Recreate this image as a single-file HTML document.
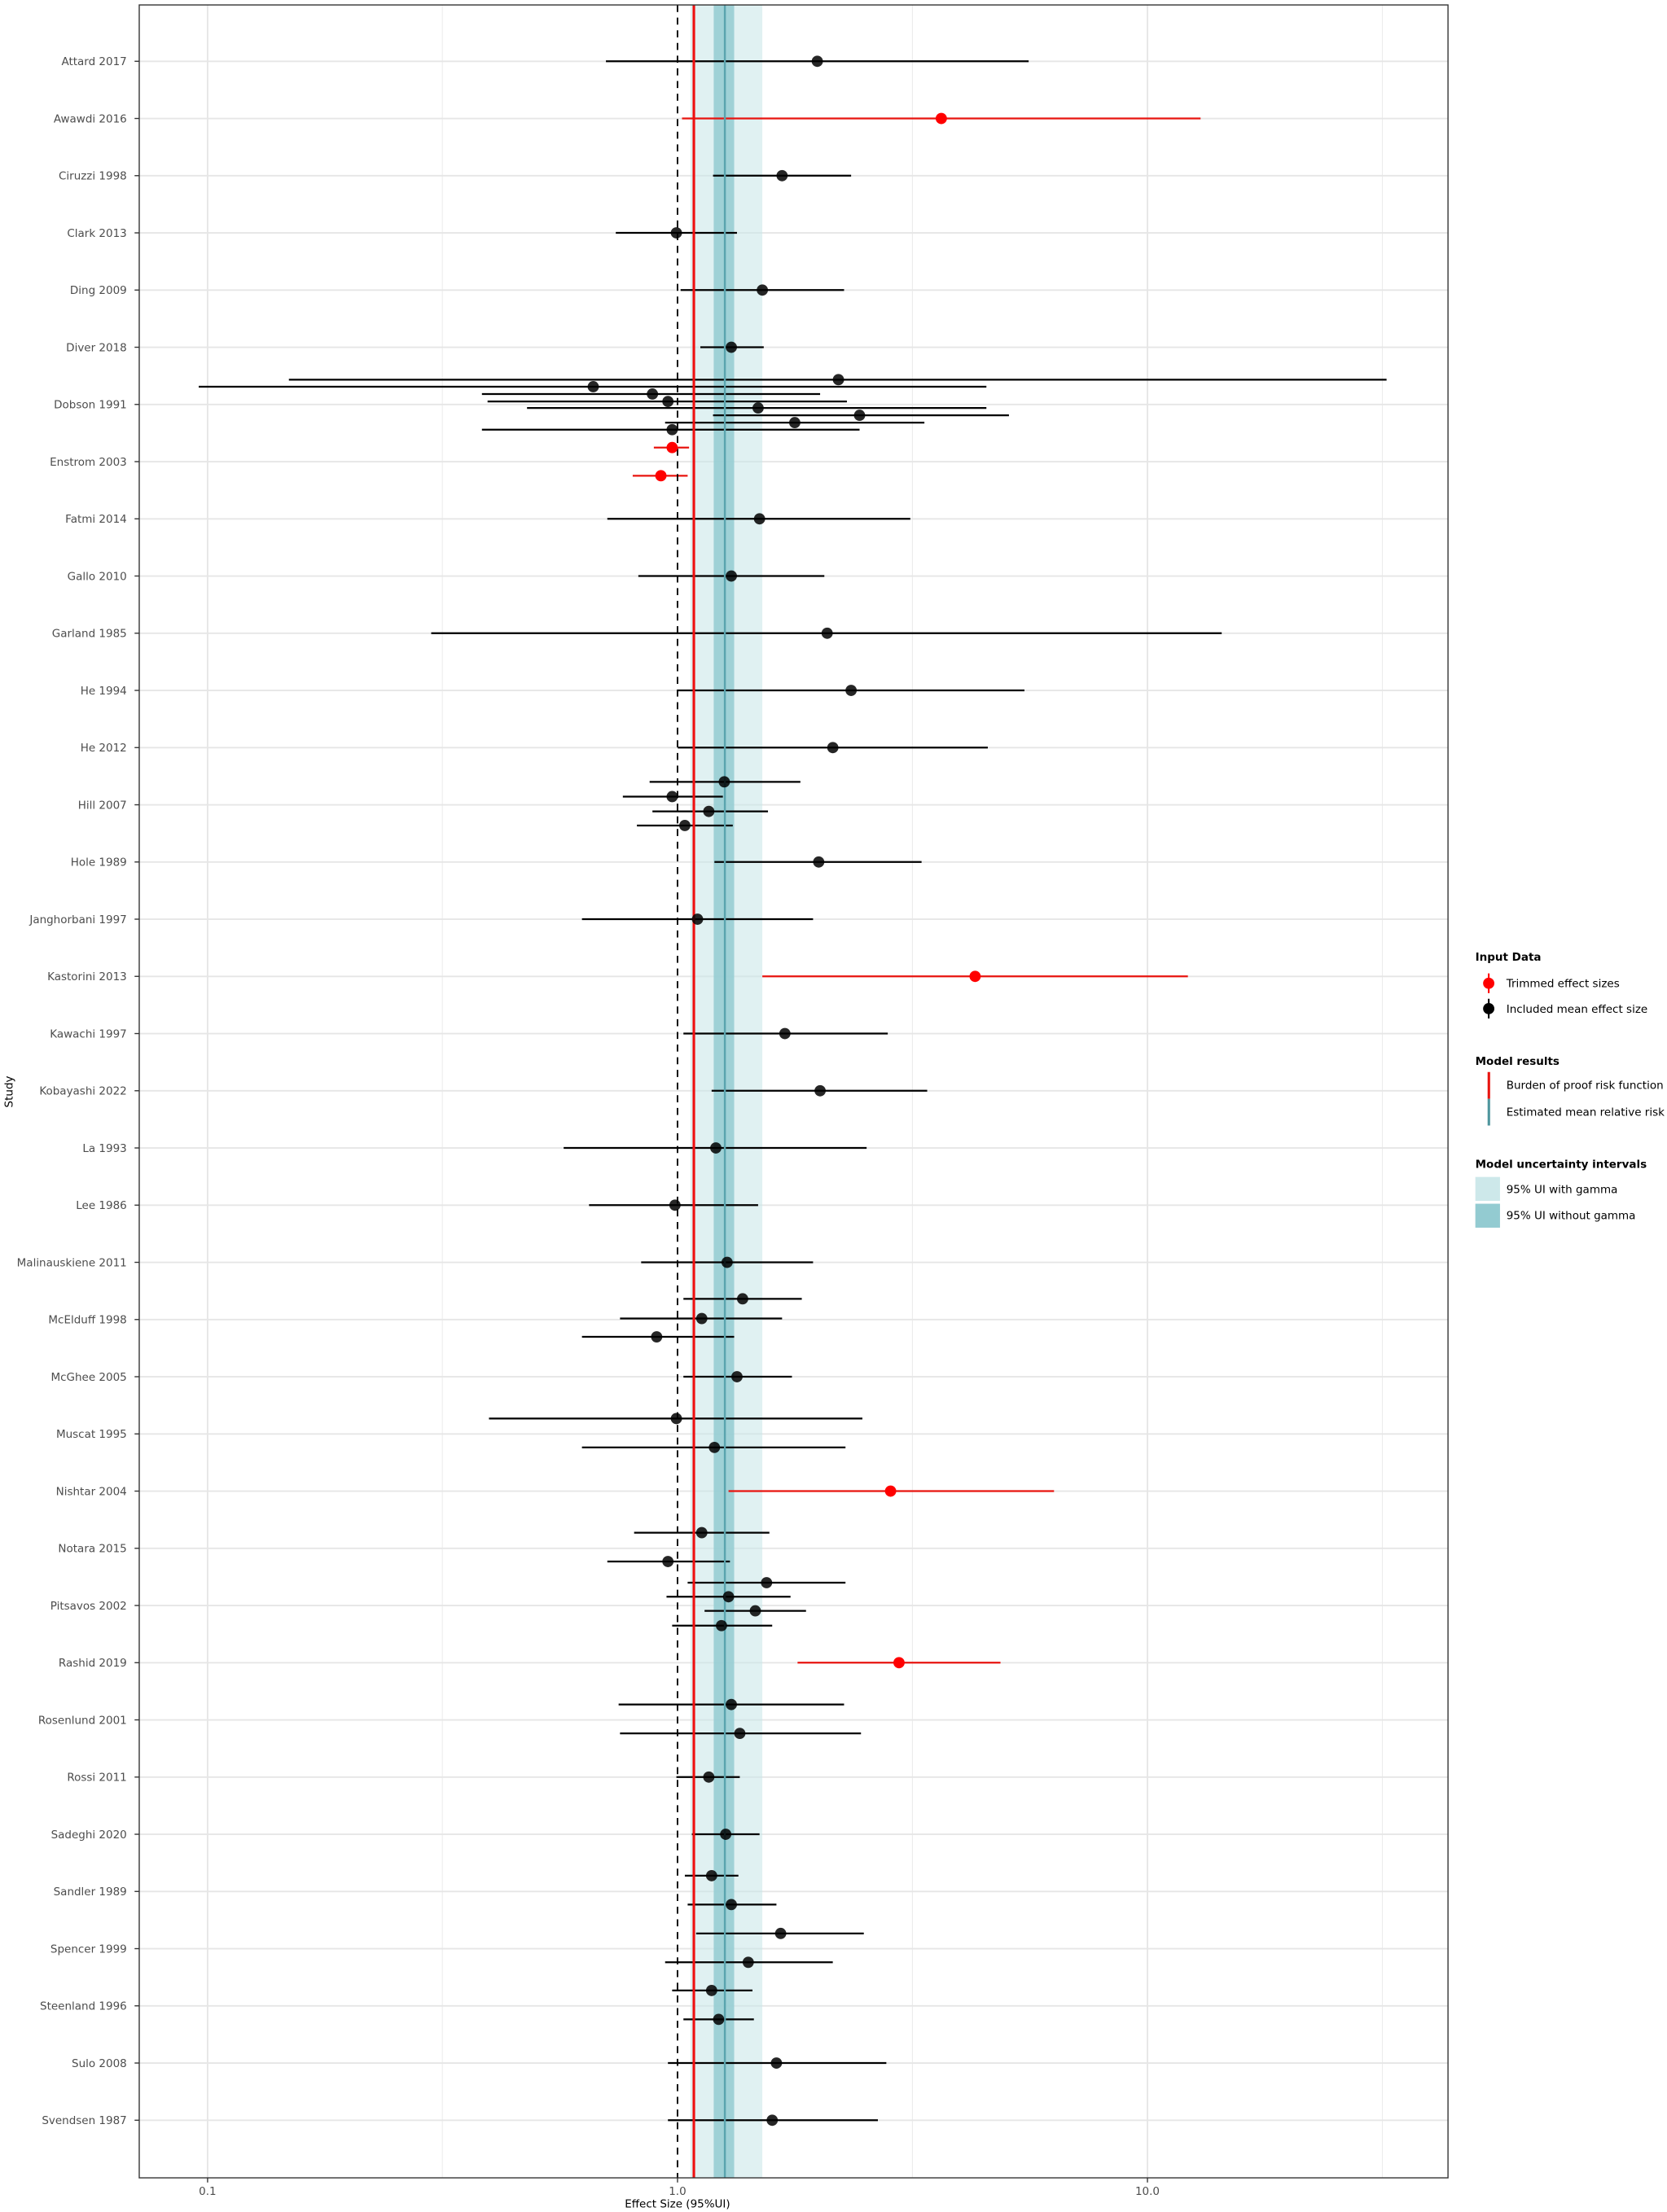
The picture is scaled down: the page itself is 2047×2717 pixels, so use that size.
<!DOCTYPE html>
<html><head><meta charset="utf-8"><style>html,body{margin:0;padding:0;background:#fff}svg{display:block}</style></head>
<body>
<svg width="2047" height="2717" viewBox="0 0 1183 1570.25" xmlns="http://www.w3.org/2000/svg" font-family="DejaVu Sans, Liberation Sans, sans-serif">
<rect x="0" y="0" width="1183" height="1570.25" fill="#fff"/>
<!-- gridlines -->
<g stroke="#ebebeb" stroke-width="0.6">
<line x1="313.9" y1="3.5" x2="313.9" y2="1546"/><line x1="647.5" y1="3.5" x2="647.5" y2="1546"/><line x1="981" y1="3.5" x2="981" y2="1546"/>
</g>
<g stroke="#e6e6e6" stroke-width="1.1">
<line x1="147.3" y1="3.5" x2="147.3" y2="1546"/><line x1="814.3" y1="3.5" x2="814.3" y2="1546"/>
<line x1="98.8" y1="43.5" x2="1027.6" y2="43.5"/><line x1="98.8" y1="84.1" x2="1027.6" y2="84.1"/><line x1="98.8" y1="124.7" x2="1027.6" y2="124.7"/><line x1="98.8" y1="165.3" x2="1027.6" y2="165.3"/><line x1="98.8" y1="205.9" x2="1027.6" y2="205.9"/><line x1="98.8" y1="246.5" x2="1027.6" y2="246.5"/><line x1="98.8" y1="287.1" x2="1027.6" y2="287.1"/><line x1="98.8" y1="327.7" x2="1027.6" y2="327.7"/><line x1="98.8" y1="368.3" x2="1027.6" y2="368.3"/><line x1="98.8" y1="408.9" x2="1027.6" y2="408.9"/><line x1="98.8" y1="449.5" x2="1027.6" y2="449.5"/><line x1="98.8" y1="490.1" x2="1027.6" y2="490.1"/><line x1="98.8" y1="530.7" x2="1027.6" y2="530.7"/><line x1="98.8" y1="571.3" x2="1027.6" y2="571.3"/><line x1="98.8" y1="611.9" x2="1027.6" y2="611.9"/><line x1="98.8" y1="652.5" x2="1027.6" y2="652.5"/><line x1="98.8" y1="693.1" x2="1027.6" y2="693.1"/><line x1="98.8" y1="733.7" x2="1027.6" y2="733.7"/><line x1="98.8" y1="774.3" x2="1027.6" y2="774.3"/><line x1="98.8" y1="814.9" x2="1027.6" y2="814.9"/><line x1="98.8" y1="855.5" x2="1027.6" y2="855.5"/><line x1="98.8" y1="896.1" x2="1027.6" y2="896.1"/><line x1="98.8" y1="936.7" x2="1027.6" y2="936.7"/><line x1="98.8" y1="977.3" x2="1027.6" y2="977.3"/><line x1="98.8" y1="1017.9" x2="1027.6" y2="1017.9"/><line x1="98.8" y1="1058.5" x2="1027.6" y2="1058.5"/><line x1="98.8" y1="1099.1" x2="1027.6" y2="1099.1"/><line x1="98.8" y1="1139.7" x2="1027.6" y2="1139.7"/><line x1="98.8" y1="1180.3" x2="1027.6" y2="1180.3"/><line x1="98.8" y1="1220.9" x2="1027.6" y2="1220.9"/><line x1="98.8" y1="1261.5" x2="1027.6" y2="1261.5"/><line x1="98.8" y1="1302.1" x2="1027.6" y2="1302.1"/><line x1="98.8" y1="1342.7" x2="1027.6" y2="1342.7"/><line x1="98.8" y1="1383.3" x2="1027.6" y2="1383.3"/><line x1="98.8" y1="1423.9" x2="1027.6" y2="1423.9"/><line x1="98.8" y1="1464.5" x2="1027.6" y2="1464.5"/><line x1="98.8" y1="1505.1" x2="1027.6" y2="1505.1"/>
</g>
<!-- bands -->
<rect x="490" y="3.5" width="51" height="1542.5" fill="#c6e6e8" opacity="0.55"/>
<rect x="506.5" y="3.5" width="14.5" height="1542.5" fill="#93cbd1" opacity="0.85"/>
<!-- error bars black -->
<g stroke="#000" stroke-width="1.3">
<line x1="430" y1="43.5" x2="730" y2="43.5"/>
<line x1="506" y1="124.7" x2="604" y2="124.7"/>
<line x1="437" y1="165.3" x2="523" y2="165.3"/>
<line x1="483" y1="205.9" x2="599" y2="205.9"/>
<line x1="497" y1="246.5" x2="542" y2="246.5"/>
<line x1="205" y1="269.5" x2="984" y2="269.5"/>
<line x1="141" y1="274.5" x2="700" y2="274.5"/>
<line x1="342" y1="279.7" x2="582" y2="279.7"/>
<line x1="346" y1="285" x2="601" y2="285"/>
<line x1="374" y1="289.6" x2="700" y2="289.6"/>
<line x1="506" y1="294.8" x2="716" y2="294.8"/>
<line x1="472" y1="300" x2="656" y2="300"/>
<line x1="342" y1="305" x2="610" y2="305"/>
<line x1="431" y1="368.3" x2="646" y2="368.3"/>
<line x1="453" y1="408.9" x2="585" y2="408.9"/>
<line x1="306" y1="449.5" x2="867" y2="449.5"/>
<line x1="481" y1="490.1" x2="727" y2="490.1"/>
<line x1="481" y1="530.7" x2="701" y2="530.7"/>
<line x1="461" y1="555" x2="568" y2="555"/>
<line x1="442" y1="565.5" x2="513" y2="565.5"/>
<line x1="463" y1="576" x2="545" y2="576"/>
<line x1="452" y1="586" x2="520" y2="586"/>
<line x1="507" y1="611.9" x2="654" y2="611.9"/>
<line x1="413" y1="652.5" x2="577" y2="652.5"/>
<line x1="485" y1="733.7" x2="630" y2="733.7"/>
<line x1="505" y1="774.3" x2="658" y2="774.3"/>
<line x1="400" y1="814.9" x2="615" y2="814.9"/>
<line x1="418" y1="855.5" x2="538" y2="855.5"/>
<line x1="455" y1="896.1" x2="577" y2="896.1"/>
<line x1="485" y1="922" x2="569" y2="922"/>
<line x1="440" y1="936" x2="555" y2="936"/>
<line x1="413" y1="949" x2="521" y2="949"/>
<line x1="485" y1="977.3" x2="562" y2="977.3"/>
<line x1="347" y1="1007" x2="612" y2="1007"/>
<line x1="413" y1="1027.5" x2="600" y2="1027.5"/>
<line x1="450" y1="1088" x2="546" y2="1088"/>
<line x1="431" y1="1108.5" x2="518" y2="1108.5"/>
<line x1="488" y1="1123.5" x2="600" y2="1123.5"/>
<line x1="473" y1="1133.5" x2="561" y2="1133.5"/>
<line x1="500" y1="1143.5" x2="572" y2="1143.5"/>
<line x1="477" y1="1154" x2="548" y2="1154"/>
<line x1="439" y1="1210" x2="599" y2="1210"/>
<line x1="440" y1="1230.5" x2="611" y2="1230.5"/>
<line x1="480" y1="1261.5" x2="525" y2="1261.5"/>
<line x1="491" y1="1302.1" x2="539" y2="1302.1"/>
<line x1="486" y1="1331.5" x2="524" y2="1331.5"/>
<line x1="488" y1="1352" x2="551" y2="1352"/>
<line x1="494" y1="1372.5" x2="613" y2="1372.5"/>
<line x1="472" y1="1393" x2="591" y2="1393"/>
<line x1="477" y1="1413" x2="534" y2="1413"/>
<line x1="485" y1="1433.5" x2="535" y2="1433.5"/>
<line x1="474" y1="1464.5" x2="629" y2="1464.5"/>
<line x1="474" y1="1505.1" x2="623" y2="1505.1"/>
</g>
<g stroke="#e8140f" stroke-width="1.3">
<line x1="484" y1="84.1" x2="852" y2="84.1"/>
<line x1="464" y1="317.7" x2="489" y2="317.7"/>
<line x1="449" y1="337.7" x2="488" y2="337.7"/>
<line x1="541" y1="693.1" x2="843" y2="693.1"/>
<line x1="517" y1="1058.5" x2="748" y2="1058.5"/>
<line x1="566" y1="1180.3" x2="710" y2="1180.3"/>
</g>
<!-- vertical reference lines -->
<line x1="480.8" y1="3.5" x2="480.8" y2="1546" stroke="#000" stroke-width="1.1" stroke-dasharray="5,4"/>
<line x1="514.4" y1="3.5" x2="514.4" y2="1546" stroke="#5aa4ae" stroke-width="1.4"/>
<line x1="492.4" y1="3.5" x2="492.4" y2="1546" stroke="#ee1010" stroke-width="1.8"/>
<!-- points -->
<g fill="#000" fill-opacity="0.85">
<circle cx="580" cy="43.5" r="4"/><circle cx="555" cy="124.7" r="4"/><circle cx="480" cy="165.3" r="4"/><circle cx="541" cy="205.9" r="4"/><circle cx="519" cy="246.5" r="4"/>
<circle cx="595" cy="269.5" r="4"/><circle cx="421" cy="274.5" r="4"/><circle cx="463" cy="279.7" r="4"/><circle cx="474" cy="285" r="4"/><circle cx="538" cy="289.6" r="4"/><circle cx="610" cy="294.8" r="4"/><circle cx="564" cy="300" r="4"/><circle cx="477" cy="305" r="4"/>
<circle cx="539" cy="368.3" r="4"/><circle cx="519" cy="408.9" r="4"/><circle cx="587" cy="449.5" r="4"/><circle cx="604" cy="490.1" r="4"/><circle cx="591" cy="530.7" r="4"/>
<circle cx="514" cy="555" r="4"/><circle cx="477" cy="565.5" r="4"/><circle cx="503" cy="576" r="4"/><circle cx="486" cy="586" r="4"/>
<circle cx="581" cy="611.9" r="4"/><circle cx="495" cy="652.5" r="4"/><circle cx="557" cy="733.7" r="4"/><circle cx="582" cy="774.3" r="4"/><circle cx="508" cy="814.9" r="4"/><circle cx="479" cy="855.5" r="4"/><circle cx="516" cy="896.1" r="4"/>
<circle cx="527" cy="922" r="4"/><circle cx="498" cy="936" r="4"/><circle cx="466" cy="949" r="4"/><circle cx="523" cy="977.3" r="4"/>
<circle cx="480" cy="1007" r="4"/><circle cx="507" cy="1027.5" r="4"/><circle cx="498" cy="1088" r="4"/><circle cx="474" cy="1108.5" r="4"/>
<circle cx="544" cy="1123.5" r="4"/><circle cx="517" cy="1133.5" r="4"/><circle cx="536" cy="1143.5" r="4"/><circle cx="512" cy="1154" r="4"/>
<circle cx="519" cy="1210" r="4"/><circle cx="525" cy="1230.5" r="4"/><circle cx="503" cy="1261.5" r="4"/><circle cx="515" cy="1302.1" r="4"/><circle cx="505" cy="1331.5" r="4"/><circle cx="519" cy="1352" r="4"/>
<circle cx="554" cy="1372.5" r="4"/><circle cx="531" cy="1393" r="4"/><circle cx="505" cy="1413" r="4"/><circle cx="510" cy="1433.5" r="4"/><circle cx="551" cy="1464.5" r="4"/><circle cx="548" cy="1505.1" r="4"/>
</g>
<g fill="#ff0000">
<circle cx="668" cy="84.1" r="4"/><circle cx="477" cy="317.7" r="4"/><circle cx="469" cy="337.7" r="4"/><circle cx="692" cy="693.1" r="4"/><circle cx="632" cy="1058.5" r="4"/><circle cx="638" cy="1180.3" r="4"/>
</g>
<!-- panel border -->
<rect x="98.8" y="3.5" width="928.8" height="1542.5" fill="none" stroke="#333" stroke-width="0.8"/>
<!-- y labels -->
<g font-size="7.8" fill="#4d4d4d" text-anchor="end">
<text x="90" y="46.3">Attard 2017</text><text x="90" y="86.9">Awawdi 2016</text><text x="90" y="127.5">Ciruzzi 1998</text><text x="90" y="168.1">Clark 2013</text><text x="90" y="208.7">Ding 2009</text><text x="90" y="249.3">Diver 2018</text><text x="90" y="289.9">Dobson 1991</text><text x="90" y="330.5">Enstrom 2003</text><text x="90" y="371.1">Fatmi 2014</text><text x="90" y="411.7">Gallo 2010</text><text x="90" y="452.3">Garland 1985</text><text x="90" y="492.9">He 1994</text><text x="90" y="533.5">He 2012</text><text x="90" y="574.1">Hill 2007</text><text x="90" y="614.7">Hole 1989</text><text x="90" y="655.3">Janghorbani 1997</text><text x="90" y="695.9">Kastorini 2013</text><text x="90" y="736.5">Kawachi 1997</text><text x="90" y="777.1">Kobayashi 2022</text><text x="90" y="817.7">La 1993</text><text x="90" y="858.3">Lee 1986</text><text x="90" y="898.9">Malinauskiene 2011</text><text x="90" y="939.5">McElduff 1998</text><text x="90" y="980.1">McGhee 2005</text><text x="90" y="1020.7">Muscat 1995</text><text x="90" y="1061.3">Nishtar 2004</text><text x="90" y="1101.9">Notara 2015</text><text x="90" y="1142.5">Pitsavos 2002</text><text x="90" y="1183.1">Rashid 2019</text><text x="90" y="1223.7">Rosenlund 2001</text><text x="90" y="1264.3">Rossi 2011</text><text x="90" y="1304.9">Sadeghi 2020</text><text x="90" y="1345.5">Sandler 1989</text><text x="90" y="1386.1">Spencer 1999</text><text x="90" y="1426.7">Steenland 1996</text><text x="90" y="1467.3">Sulo 2008</text><text x="90" y="1507.9">Svendsen 1987</text>
</g>
<g stroke="#333" stroke-width="0.8">
<line x1="95.5" y1="43.5" x2="98.8" y2="43.5"/><line x1="95.5" y1="84.1" x2="98.8" y2="84.1"/><line x1="95.5" y1="124.7" x2="98.8" y2="124.7"/><line x1="95.5" y1="165.3" x2="98.8" y2="165.3"/><line x1="95.5" y1="205.9" x2="98.8" y2="205.9"/><line x1="95.5" y1="246.5" x2="98.8" y2="246.5"/><line x1="95.5" y1="287.1" x2="98.8" y2="287.1"/><line x1="95.5" y1="327.7" x2="98.8" y2="327.7"/><line x1="95.5" y1="368.3" x2="98.8" y2="368.3"/><line x1="95.5" y1="408.9" x2="98.8" y2="408.9"/><line x1="95.5" y1="449.5" x2="98.8" y2="449.5"/><line x1="95.5" y1="490.1" x2="98.8" y2="490.1"/><line x1="95.5" y1="530.7" x2="98.8" y2="530.7"/><line x1="95.5" y1="571.3" x2="98.8" y2="571.3"/><line x1="95.5" y1="611.9" x2="98.8" y2="611.9"/><line x1="95.5" y1="652.5" x2="98.8" y2="652.5"/><line x1="95.5" y1="693.1" x2="98.8" y2="693.1"/><line x1="95.5" y1="733.7" x2="98.8" y2="733.7"/><line x1="95.5" y1="774.3" x2="98.8" y2="774.3"/><line x1="95.5" y1="814.9" x2="98.8" y2="814.9"/><line x1="95.5" y1="855.5" x2="98.8" y2="855.5"/><line x1="95.5" y1="896.1" x2="98.8" y2="896.1"/><line x1="95.5" y1="936.7" x2="98.8" y2="936.7"/><line x1="95.5" y1="977.3" x2="98.8" y2="977.3"/><line x1="95.5" y1="1017.9" x2="98.8" y2="1017.9"/><line x1="95.5" y1="1058.5" x2="98.8" y2="1058.5"/><line x1="95.5" y1="1099.1" x2="98.8" y2="1099.1"/><line x1="95.5" y1="1139.7" x2="98.8" y2="1139.7"/><line x1="95.5" y1="1180.3" x2="98.8" y2="1180.3"/><line x1="95.5" y1="1220.9" x2="98.8" y2="1220.9"/><line x1="95.5" y1="1261.5" x2="98.8" y2="1261.5"/><line x1="95.5" y1="1302.1" x2="98.8" y2="1302.1"/><line x1="95.5" y1="1342.7" x2="98.8" y2="1342.7"/><line x1="95.5" y1="1383.3" x2="98.8" y2="1383.3"/><line x1="95.5" y1="1423.9" x2="98.8" y2="1423.9"/><line x1="95.5" y1="1464.5" x2="98.8" y2="1464.5"/><line x1="95.5" y1="1505.1" x2="98.8" y2="1505.1"/>
<line x1="147.3" y1="1546" x2="147.3" y2="1549.3"/><line x1="480.8" y1="1546" x2="480.8" y2="1549.3"/><line x1="814.3" y1="1546" x2="814.3" y2="1549.3"/>
</g>
<g font-size="7.8" fill="#4d4d4d" text-anchor="middle">
<text x="147.3" y="1558">0.1</text><text x="480.8" y="1558">1.0</text><text x="814.3" y="1558">10.0</text>
</g>
<text x="480.8" y="1567" font-size="7.8" fill="#000" text-anchor="middle">Effect Size (95%UI)</text>
<text transform="translate(9,775) rotate(-90)" font-size="7.8" fill="#000" text-anchor="middle">Study</text>
<!-- legend -->
<g font-size="7.8" fill="#000">
<text x="1047" y="682" font-weight="bold">Input Data</text>
<line x1="1056.5" y1="691" x2="1056.5" y2="705" stroke="#ff0000" stroke-width="1.2"/><circle cx="1056.5" cy="698" r="4" fill="#ff0000"/>
<text x="1069" y="700.8">Trimmed effect sizes</text>
<line x1="1056.5" y1="709" x2="1056.5" y2="723" stroke="#000" stroke-width="1.2"/><circle cx="1056.5" cy="716" r="4" fill="#000"/>
<text x="1069" y="719">Included mean effect size</text>
<text x="1047" y="756" font-weight="bold">Model results</text>
<rect x="1055.7" y="761" width="1.8" height="19" fill="#e8140f"/>
<rect x="1055.7" y="780" width="1.8" height="19" fill="#4f959d"/>
<text x="1069" y="773">Burden of proof risk function</text>
<text x="1069" y="792">Estimated mean relative risk</text>
<text x="1047" y="829" font-weight="bold">Model uncertainty intervals</text>
<rect x="1047" y="835.5" width="17.5" height="17" fill="#cde8ea"/>
<rect x="1047" y="854.5" width="17.5" height="17" fill="#93cbd1"/>
<text x="1069" y="847">95% UI with gamma</text>
<text x="1069" y="865.5">95% UI without gamma</text>
</g>
</svg>
</body></html>
